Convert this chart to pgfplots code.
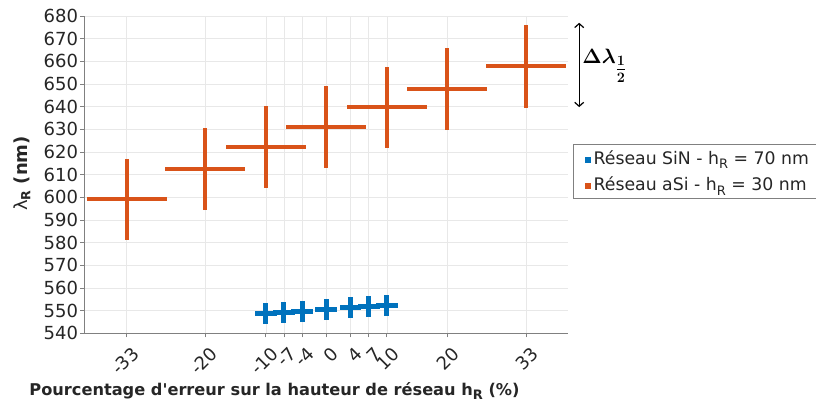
\documentclass[border=0pt]{standalone}
\usepackage{pgfplots}
\pgfplotsset{compat=1.18}
\usetikzlibrary{arrows.meta}
\usepackage{fontspec}
\setmainfont{DejaVu Sans}
\usepackage{amsmath,bm}
\definecolor{cOr}{RGB}{217,83,25}
\definecolor{cBl}{RGB}{0,114,189}
\definecolor{axg}{RGB}{128,128,128}
\definecolor{txt}{RGB}{38,38,38}
\definecolor{grd}{RGB}{232,232,232}
\newcommand{\subR}{\raisebox{-0.5ex}{\fontsize{13}{13}\selectfont R}}
\begin{document}
\begin{tikzpicture}[x=1pt,y=1pt]
\begin{axis}[
  at={(0,0)}, anchor=south west,
  scale only axis, width=484pt, height=317.3pt,
  xmin=-40, xmax=40, ymin=540, ymax=680,
  ytick distance=10,
  xtick={-33,-20,-10,-7,-4,0,4,7,10,20,33},
  grid=major, major grid style={grd, line width=0.6pt},
  axis x line*=bottom, axis y line*=left,
  axis line style={axg, line width=0.8pt, -},
  tick align=outside, major tick length=4pt,
  tick style={axg, line width=0.8pt},
  /pgf/number format/assume math mode=true,
  ticklabel style={text=txt, font=\fontsize{18}{18}\selectfont},
  xticklabel style={xshift=9pt, yshift=-13pt, rotate=45, anchor=east, inner sep=0pt},
  yticklabel style={inner sep=2pt},
  xlabel={\textbf{Pourcentage d\textquotesingle erreur sur la hauteur de réseau h\subR\ (\%)}},
  x label style={at={(axis description cs:0.393,-0.182)}, anchor=center, text=txt, font=\fontsize{16.2}{18}\selectfont},
  ylabel={λ\textsubscript{\textbf{R}} \textbf{(nm)}},
  y label style={at={(axis description cs:-0.1287,0.504)}, anchor=center, text=txt, font=\fontsize{18}{18}\selectfont},
  clip=false,
  legend cell align=left,
  legend style={at={(1.0097,0.5966)}, anchor=north west, draw=axg, fill=white,
    font=\fontsize{17.3}{20}\selectfont, text=txt, inner xsep=1pt, inner ysep=4pt, row sep=7pt},
]
\addlegendimage{legend image code/.code={\fill[cBl] (11pt,-4pt) rectangle (16pt,1pt) (0pt,0pt) (17pt,0pt);}}
\addlegendentry{Réseau SiN - h\subR\ = 70 nm\hspace*{12pt}}
\addlegendimage{legend image code/.code={\fill[cOr] (11pt,-4pt) rectangle (16pt,1pt) (0pt,0pt) (17pt,0pt);}}
\addlegendentry{Réseau aSi - h\subR\ = 30 nm\hspace*{12pt}\rule[-7pt]{0pt}{1pt}}

\addplot[forget plot, only marks, mark=none, cOr,
  error bars/.cd, x dir=both, x explicit, y dir=both, y explicit,
  error mark=none, error bar style={cOr, line width=4pt}]
  coordinates {
  (-33,599.1) +- (6.6,17.9)
  (-20,612.6) +- (6.6,18.2)
  (-10,622.3) +- (6.6,18.2)
  (0,631.1) +- (6.6,18.1)
  (10,639.7) +- (6.6,18.0)
  (20,647.8) +- (6.6,18.1)
  (33,657.9) +- (6.6,18.3)
  };
\addplot[forget plot, only marks, mark=none, cBl,
  error bars/.cd, x dir=both, x explicit, y dir=both, y explicit,
  error mark=none, error bar style={cBl, line width=5pt}]
  coordinates {
  (-10,548.6) +- (1.8,4.6)
  (-7,549.1) +- (1.8,4.6)
  (-4,549.7) +- (1.8,4.6)
  (0,550.6) +- (1.8,4.6)
  (4,551.5) +- (1.8,4.6)
  (7,551.8) +- (1.8,4.6)
  (10,552.4) +- (1.8,4.6)
  };
\coordinate (ArrB) at (axis cs:41.8,639.8);
\coordinate (ArrT) at (axis cs:41.8,677);
\coordinate (Lab) at (axis cs:42.3,658);
\end{axis}
\draw[{Straight Barb[length=4pt,width=9pt]}-{Straight Barb[length=4pt,width=9pt]}, line width=1.2pt]
  (ArrB) -- (ArrT);
\node[anchor=west, inner sep=0pt] at (Lab) {\fontsize{21}{21}\selectfont$\bm{\Delta\lambda}_{\bm{\tfrac{1}{2}}}$};
\pgfresetboundingbox
\path[use as bounding box] (-84.3,-76.7) rectangle (731.7,333.3);
\end{tikzpicture}
\end{document}
